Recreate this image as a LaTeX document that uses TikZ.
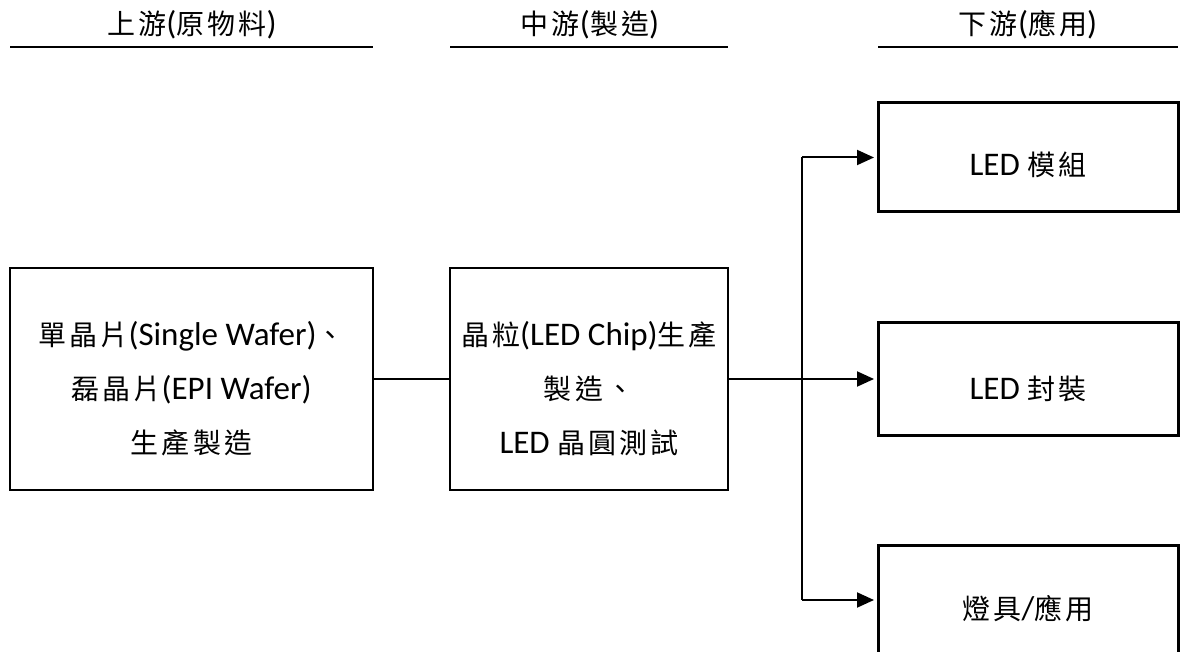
\documentclass[tikz,border=0pt]{standalone}
\usepackage{fontspec}
\setmainfont{Carlito}
\newfontfamily\cjkf{Noto Sans CJK TC}[LetterSpace=11]
\newcommand\zh[1]{{\cjkf\fontsize{28}{54}\selectfont #1}}
\usetikzlibrary{arrows.meta}
\begin{document}
\begin{tikzpicture}[x=1pt,y=-1pt,
  box/.style={draw=black,line width=2pt,inner sep=0pt,outer sep=0pt},
  rbox/.style={draw=black,line width=3pt,inner sep=0pt,outer sep=0pt,minimum width=300},
  txt/.style={align=center,inner sep=0pt,font=\fontsize{33}{54}\selectfont},
  hdr/.style={inner sep=0pt,font=\fontsize{33}{40}\selectfont},
  rule/.style={line width=2pt},
  conn/.style={line width=2pt},
  arr/.style={line width=2pt,-{Triangle[length=17pt,width=15pt]},shorten >=4pt}]
\useasboundingbox (0,0) rectangle (1181,652);
\clip (0,0) rectangle (1181,652);
% headers
\node[hdr] (h1) at (192,25) {\zh{上游}(\zh{原物料})};
\node[hdr] (h2) at (590,25) {\zh{中游}(\zh{製造})};
\node[hdr] (h3) at (1028,25) {\zh{下游}(\zh{應用})};
\draw[rule] (10,47) -- (373,47);
\draw[rule] (450,47) -- (728,47);
\draw[rule] (878,47) -- (1178,47);
% boxes
\node[box,minimum width=363,minimum height=222] (up) at (191.5,379) {};
\node[box,minimum width=278,minimum height=222] (md) at (589,379) {};
\node[rbox,minimum height=109] (r1) at (1028,157.5) {};
\node[rbox,minimum height=112] (r2) at (1028,379) {};
\node[rbox,minimum height=110] (r3) at (1028,600) {};
% texts
\node[txt] (tup) at (191.5,389) {\zh{單晶片}(Single Wafer)\zh{、}\\\zh{磊晶片}(EPI Wafer)\\\zh{生產製造}};
\node[txt] (tmd) at (589,389) {\zh{晶粒}(LED Chip)\zh{生產}\\\zh{製造、}\\LED \zh{晶圓測試}};
\node[txt] (t1) at (1028,165) {LED \zh{模組}};
\node[txt] (t2) at (1028,389) {LED \zh{封裝}};
\node[txt] (t3) at (1028,609) {\zh{燈具}/\zh{應用}};
% connectors
\coordinate (j) at (802,379);
\draw[conn] (up.east) -- (md.west);
\draw[conn] (md.east) -- (j);
\draw[conn] (j |- r1.west) -- (j |- r3.west);
\draw[arr] (j |- r1.west) -- (r1.west);
\draw[arr] (j) -- (r2.west);
\draw[arr] (j |- r3.west) -- (r3.west);
\end{tikzpicture}
\end{document}
